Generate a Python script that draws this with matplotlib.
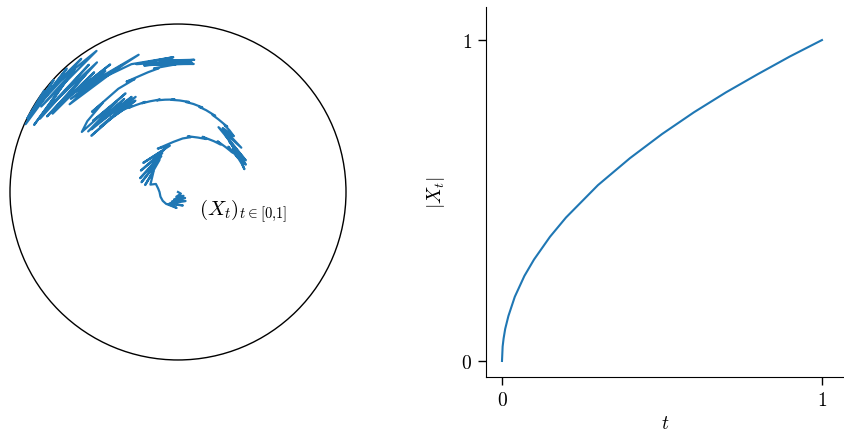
import numpy as np
import matplotlib
matplotlib.use("Agg")
import matplotlib.pyplot as plt
from matplotlib.patches import Circle

plt.rcParams['mathtext.fontset'] = 'cm'
plt.rcParams['font.family'] = 'serif'

# path of X_t in the unit disk as (angle in degrees, radius)
# radius grows with t, the angle wanders back and forth
path_deg = [0, -30, -110, -35, -118, -40, -122, -50, -125, -70, -128, -95, -135,
            # inner "(" arc and its hatching
            -150, -165, 180, 170, 160, 165, 140, 168, 120, 165, 115, 160, 112, 150, 108,
            140, 100, 115, 95,
            # over the top to the right
            85, 77, 80, 70, 62, 66, 55, 48, 52, 43, 36, 42, 30, 38, 24, 19, 30, 45, 22,
            50, 25, 58, 35, 55, 45,
            # second arc back to the left
            50, 55, 53, 61, 66, 64, 71, 76, 74, 80, 85, 83, 89, 94, 92, 98, 103, 101,
            107, 112, 110, 116, 120, 118, 124,
            132, 115, 140, 118, 147, 114, 138, 116, 144, 120, 146, 124, 140, 118, 148,
            # third arc
            142, 130, 137, 120, 111, 115, 104, 99, 101, 94, 91, 93, 86, 83, 100, 84,
            105, 85, 98, 83, 108, 92, 110, 126, 114, 141, 121, 139, 106, 136, 118,
            140, 125,
            # outer strand along the circle
            148, 128, 150, 122, 145, 125, 152, 135, 155, 130, 148, 120, 140, 126, 150,
            132, 156, 138, 154, 143]
path_r = [0.0, 0.02, 0.03, 0.04, 0.05, 0.055, 0.065, 0.07, 0.08, 0.085, 0.09, 0.095, 0.10,
          0.105, 0.108, 0.11, 0.12, 0.14, 0.17, 0.19, 0.20, 0.22, 0.225, 0.235, 0.24,
          0.25, 0.255, 0.265, 0.27, 0.28, 0.285, 0.30,
          0.32, 0.335, 0.337, 0.345, 0.357, 0.36, 0.37, 0.38, 0.383, 0.39, 0.40, 0.403,
          0.41, 0.413, 0.415, 0.418, 0.422, 0.43, 0.435, 0.44, 0.445, 0.455, 0.46,
          0.465, 0.47,
          0.478, 0.485, 0.487, 0.495, 0.503, 0.505, 0.515, 0.522, 0.524, 0.532, 0.538,
          0.54, 0.545, 0.55, 0.551, 0.555, 0.56, 0.561, 0.565, 0.57, 0.571, 0.575,
          0.58, 0.582, 0.588,
          0.595, 0.60, 0.605, 0.61, 0.615, 0.62, 0.625, 0.63, 0.635, 0.64, 0.645, 0.65,
          0.66, 0.665, 0.675,
          0.685, 0.695, 0.70, 0.71, 0.72, 0.725, 0.735, 0.745, 0.75, 0.755, 0.76, 0.762,
          0.765, 0.768, 0.772, 0.776, 0.78, 0.785, 0.79, 0.793, 0.80, 0.803, 0.81,
          0.82, 0.825, 0.83, 0.84, 0.845, 0.85, 0.855, 0.86, 0.865, 0.87,
          0.88, 0.89, 0.90, 0.91, 0.915, 0.925, 0.93, 0.94, 0.945, 0.955, 0.96, 0.97,
          0.975, 0.98, 0.985, 0.99, 0.993, 0.996, 0.998, 1.0]

# |X_t| against t
t_vals = [0.0, 0.002, 0.005, 0.01, 0.02, 0.04, 0.07, 0.1, 0.15, 0.2, 0.3, 0.4,
          0.5, 0.6, 0.7, 0.8, 0.9, 1.0]
r_vals = [0.0, 0.045, 0.07, 0.10, 0.14, 0.20, 0.265, 0.316, 0.387, 0.447, 0.548,
          0.632, 0.707, 0.775, 0.837, 0.894, 0.949, 1.0]

blue = '#1f77b4'

theta = np.deg2rad(path_deg)
px = np.array(path_r) * np.cos(theta)
py = np.array(path_r) * np.sin(theta)

fig = plt.figure(figsize=(8.45, 4.39), dpi=100)

# left: the disk
ax1 = fig.add_axes([0.0, 53 / 439, 356 / 845, 386 / 439])
ax1.add_patch(Circle((0, 0), 1.0, fill=False, ec='black', lw=1.0))
ax1.plot(px, py, color=blue, lw=1.6, solid_joinstyle='round')
ax1.text(0.125, -0.11, r'$(X_t)_{t{\in}[0{,}1]}$', fontsize=15, ha='left', va='center')
ax1.set_xlim(-1.0595, 1.0595)
ax1.set_ylim(-1.149, 1.149)
ax1.axis('off')

# right: modulus over time
ax2 = fig.add_axes([486 / 845, 61 / 439, 359 / 845, 370 / 439])
ax2.plot(t_vals, r_vals, color=blue, lw=1.5)
ax2.set_xlim(-0.05, 1.072)
ax2.set_ylim(-0.05, 1.103)
ax2.spines['top'].set_visible(False)
ax2.spines['right'].set_visible(False)
ax2.set_xticks([0, 1])
ax2.set_xticklabels(['$0$', '$1$'])
ax2.set_yticks([0, 1])
ax2.set_yticklabels(['$0$', '$1$'])
ax2.tick_params(labelsize=14, length=6, width=1, pad=4)
ax2.set_xlabel('$t$', fontsize=14, labelpad=4)
ax2.set_ylabel('$|X_t|$', fontsize=14, labelpad=10)

fig.savefig('out.png', dpi=100)
